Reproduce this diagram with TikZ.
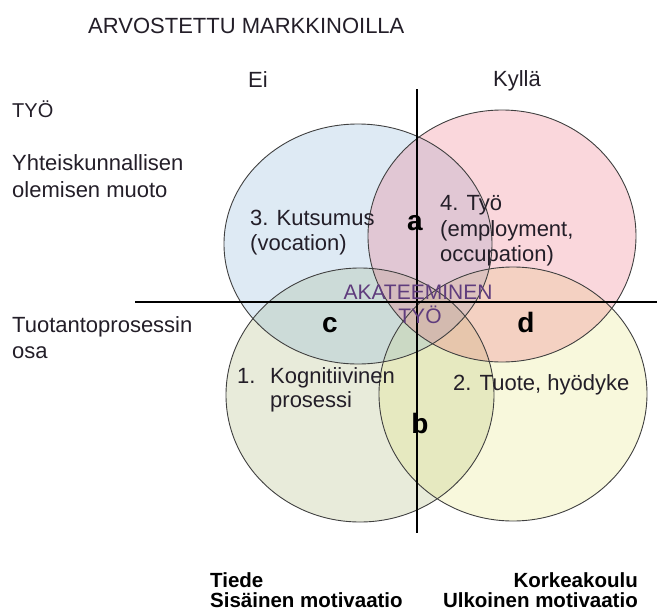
\documentclass[tikz,border=0pt]{standalone}
\usepackage{fontspec}
\setmainfont{Liberation Sans}
\definecolor{cblue}{RGB}{123,171,211}
\definecolor{cpink}{RGB}{235,95,115}
\definecolor{cgreen}{RGB}{163,175,107}
\definecolor{cyellow}{RGB}{227,227,115}
\definecolor{txt}{RGB}{35,30,40}
\definecolor{akat}{RGB}{95,60,125}
\begin{document}
\begin{tikzpicture}[x=1pt,y=-1pt,
  setfill/.style={fill opacity=0.25, draw=none},
  setline/.style={draw=black!75, line width=0.9pt},
  axis/.style={draw=black, line width=1.2pt},
  lbl/.style={inner sep=0pt, text=txt, font=\fontsize{22}{26}\selectfont},
  lblw/.style={lbl, anchor=base west},
  big/.style={inner sep=0pt, text=black, anchor=base, font=\fontsize{28}{32}\selectfont\bfseries},
  foot/.style={inner sep=0pt, text=black, font=\fontsize{20.5}{24}\selectfont\bfseries},
]
\useasboundingbox (0,0) rectangle (657,614);
% fills
\fill[setfill, fill=cgreen]  (360,395) ellipse [x radius=134, y radius=127];
\fill[setfill, fill=cyellow] (513,394) ellipse [x radius=134, y radius=127];
\fill[setfill, fill=cblue]   (358,244) ellipse [x radius=134, y radius=120];
\fill[setfill, fill=cpink]   (502,236) ellipse [x radius=134, y radius=126];
% outlines
\draw[setline] (360,395) ellipse [x radius=134, y radius=127];
\draw[setline] (513,394) ellipse [x radius=134, y radius=127];
\draw[setline] (358,244) ellipse [x radius=134, y radius=120];
\draw[setline] (502,236) ellipse [x radius=134, y radius=126];
% axes
\coordinate (vtop) at (417,89);
\coordinate (vbot) at (417,533);
\coordinate (hleft) at (135,302);
\coordinate (hright) at (657,302);
\draw[axis] (vtop) -- (vbot);
\draw[axis] (hleft) -- (hright);
% header texts
\node[lblw] (title) at (88,33) {ARVOSTETTU MARKKINOILLA};
\node[lbl, anchor=base] (ei) at (258,87) {Ei};
\node[lbl, anchor=base] (kylla) at (517,86) {Kyllä};
\node[lblw, font=\fontsize{20}{24}\selectfont] (tyo) at (12,117) {TYÖ};
\node[lblw] (yht1) at (12,170) {Yhteiskunnallisen};
\node[lblw] (yht2) at (12,197) {olemisen muoto};
\node[lblw] (tuo1) at (12,332) {Tuotantoprosessin};
\node[lblw] (tuo2) at (12,358) {osa};
% set labels
\node[lblw] (kut1) at (250,225) {3. Kutsumus};
\node[lblw] (kut2) at (250,250) {(vocation)};
\node[lblw] (ty1) at (440,210) {4. Työ};
\node[lblw] (ty2) at (440,236) {(employment,};
\node[lblw] (ty3) at (440,261) {occupation)};
\node[lblw] (kog0) at (237,383) {1.};
\node[lblw] (kog1) at (270,383) {Kognitiivinen};
\node[lblw] (kog2) at (270,407) {prosessi};
\node[lblw] (tuote) at (453,390) {2. Tuote, hyödyke};
\node[lbl, anchor=base, text=akat, font=\fontsize{21}{25}\selectfont] (ak1) at (418,299) {AKATEEMINEN};
\node[lbl, anchor=base, text=akat, font=\fontsize{21}{25}\selectfont] (ak2) at (420,323) {TYÖ};
% region letters
\node[big] (a) at (415,230) {a};
\node[big] (b) at (420,433) {b};
\node[big] (c) at (330,332) {c};
\node[big] (d) at (526,332) {d};
% footer
\node[foot, anchor=base west] (tiede) at (210,587) {Tiede};
\node[foot, anchor=base west] (sis) at (210,607) {Sisäinen motivaatio};
\node[foot, anchor=base east] (kork) at (638,587) {Korkeakoulu};
\node[foot, anchor=base east] (ulk) at (638,607) {Ulkoinen motivaatio};
\end{tikzpicture}
\end{document}
